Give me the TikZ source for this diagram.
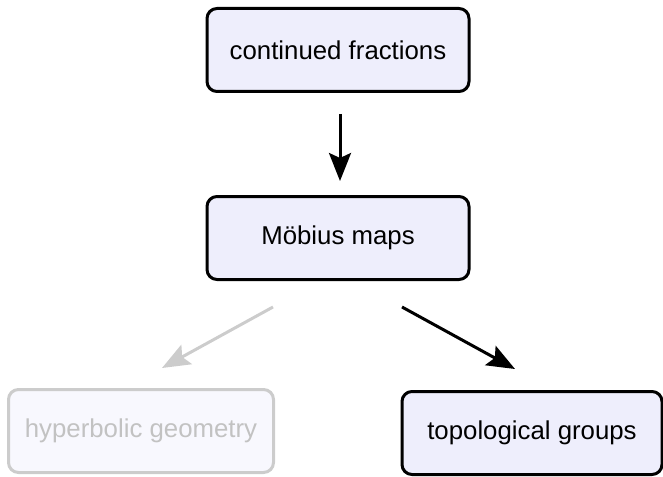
\documentclass[tikz,border=0pt]{standalone}
\usepackage{fontspec}
\setmainfont{Liberation Sans}
\usetikzlibrary{arrows.meta}
\definecolor{boxfill}{HTML}{EEEEFC}
\definecolor{fadefill}{HTML}{F8F8FE}
\definecolor{fadeline}{HTML}{CCCCCC}
\definecolor{fadetext}{HTML}{C2C2C2}

\begin{document}
\begin{tikzpicture}[x=0.5pt, y=-0.5pt,
  topic/.style={draw, line width=1.5pt, rounded corners=5pt, fill=boxfill, text=black,
    minimum width=131pt, minimum height=41.5pt, font=\fontsize{12.9}{15}\selectfont},
  faded/.style={topic, draw=fadeline, fill=fadefill, text=fadetext},
  link/.style={line width=1.5pt, -{Stealth[length=14pt, width=11pt, inset=2.5pt]}}]
\useasboundingbox (0,0) rectangle (663,476); % page
\node[topic] (frac) at (338,50) {continued fractions}; % top
\node[topic] (mob) at (338,238) {Möbius maps}; % middle
\node[faded, minimum width=132.5pt] (hyp) at (141,431) {hyperbolic geometry}; % left, greyed
\node[topic, minimum width=130pt] (topo) at (532,433) {topological groups}; % right
\draw[link, shorten <=10.5pt, shorten >=7pt] ([xshift=1pt]frac.south) -- ([xshift=1pt]mob.north); % down
\draw[link, fadeline] ([xshift=-32.5pt, yshift=-13pt]mob.south) -- ([xshift=10.5pt, yshift=10pt]hyp.north); % grey arrow
\draw[link] ([xshift=32pt, yshift=-13pt]mob.south) -- ([xshift=-8.5pt, yshift=10.5pt]topo.north); % black arrow
\end{tikzpicture}
\end{document}
